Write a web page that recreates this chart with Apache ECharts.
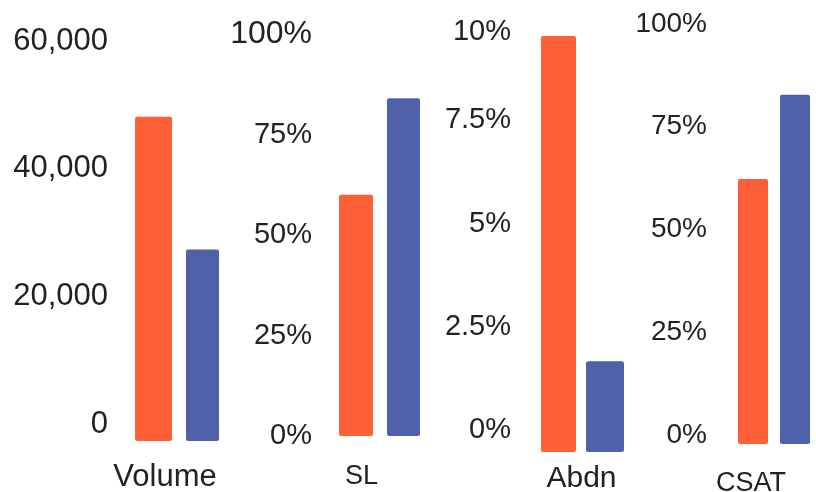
<!DOCTYPE html>
<html>
<head>
<meta charset="utf-8">
<script src="https://cdn.jsdelivr.net/npm/echarts@6/dist/echarts.min.js"></script>
<style>html,body{margin:0;padding:0;background:#fff;}#c{width:816px;height:492px;}</style>
</head>
<body>
<div id="c"></div>
<script>
// ---- data ----
const categories = ['Volume', 'SL', 'Abdn', 'CSAT'];
const orangeValues = [50800, 60, 10.07, 64.5];
const blueValues = [30000, 84, 2.2, 85];
const axisMax = [60000, 100, 10, 100];
const axisInterval = [20000, 25, 2.5, 25];
const volumeTicks = ['0', '20,000', '40,000', '60,000'];
const slTicks = ['0%', '25%', '50%', '75%', '100%'];
const abdnTicks = ['0%', '2.5%', '5%', '7.5%', '10%'];
const csatTicks = ['0%', '25%', '50%', '75%', '100%'];
const tickLabels = [volumeTicks, slTicks, abdnTicks, csatTicks];

// ---- layout / style (not data) ----
const ORANGE = '#FF5F37';
const BLUE = '#4F62A9';
const TEXT = '#222222';
const FONT = 'Liberation Sans, Arial, sans-serif';
const panels = [
  { left: 125, width: 104, top: 58, height: 383, yMargin: 17, yShift: 17, topShift: 17, yFont: 31, topFont: 31, xFont: 31, xMargin: 21, xShift: 12, wA: 37, wB: 33, gap: '37.8%' },
  { left: 325, width: 109, top: 34, height: 402, yMargin: 13, yShift: 0, topShift: 0, yFont: 29, topFont: 32, xFont: 27, xMargin: 27, xShift: 18, wA: 34, wB: 33, gap: '41.2%' },
  { left: 528, width: 109, top: 39, height: 413, yMargin: 17, yShift: 22, topShift: 7, yFont: 29, topFont: 29, xFont: 30, xMargin: 12, xShift: 1, wA: 35, wB: 38, gap: '28.6%' },
  { left: 738, width: 72, top: 33, height: 411, yMargin: 31, yShift: 9, topShift: 9, yFont: 28, topFont: 28, xFont: 27, xMargin: 26, xShift: 23, wA: 30, wB: 30, gap: '40%' }
];

function lineH(shift, font) { return shift > 0 ? shift * 2 : Math.round(font * 1.2); }

const grid = [], xAxis = [], yAxis = [], series = [];
categories.forEach(function (cat, i) {
  const p = panels[i];
  const labels = tickLabels[i];
  grid.push({ left: p.left, top: p.top, width: p.width, height: p.height, containLabel: false, outerBoundsMode: 'none' });
  xAxis.push({
    type: 'category', gridIndex: i, data: [cat],
    axisLine: { show: false }, axisTick: { show: false }, splitLine: { show: false },
    axisLabel: {
      margin: p.xMargin, fontSize: p.xFont, lineHeight: p.xFont, color: TEXT,
      fontFamily: FONT,
      padding: [0, p.xShift * 2, 0, 0]
    }
  });
  yAxis.push({
    type: 'value', gridIndex: i, min: 0, max: axisMax[i], interval: axisInterval[i],
    axisLine: { show: false }, axisTick: { show: false }, splitLine: { show: false },
    axisLabel: {
      margin: p.yMargin, color: TEXT, fontFamily: FONT, fontSize: p.yFont,
      verticalAlign: p.yShift > 0 ? 'bottom' : 'middle',
      formatter: function (v, idx) {
        return (idx === labels.length - 1 ? '{t|' : '{n|') + labels[idx] + '}';
      },
      rich: {
        n: { fontSize: p.yFont, fontFamily: FONT, color: TEXT, lineHeight: lineH(p.yShift, p.yFont) },
        t: { fontSize: p.topFont, fontFamily: FONT, color: TEXT, lineHeight: lineH(p.topShift, p.topFont) }
      }
    }
  });
  series.push({
    type: 'bar', xAxisIndex: i, yAxisIndex: i, data: [orangeValues[i]],
    barWidth: p.wA, barGap: p.gap, clip: false, silent: true,
    itemStyle: { color: ORANGE, borderRadius: 2 }
  });
  series.push({
    type: 'bar', xAxisIndex: i, yAxisIndex: i, data: [blueValues[i]],
    barWidth: p.wB, barGap: p.gap, clip: false, silent: true,
    itemStyle: { color: BLUE, borderRadius: 2 }
  });
});

const chart = echarts.init(document.getElementById('c'), null, { renderer: 'canvas' });
chart.setOption({ animation: false, backgroundColor: '#ffffff', grid: grid, xAxis: xAxis, yAxis: yAxis, series: series });
</script>
</body>
</html>
